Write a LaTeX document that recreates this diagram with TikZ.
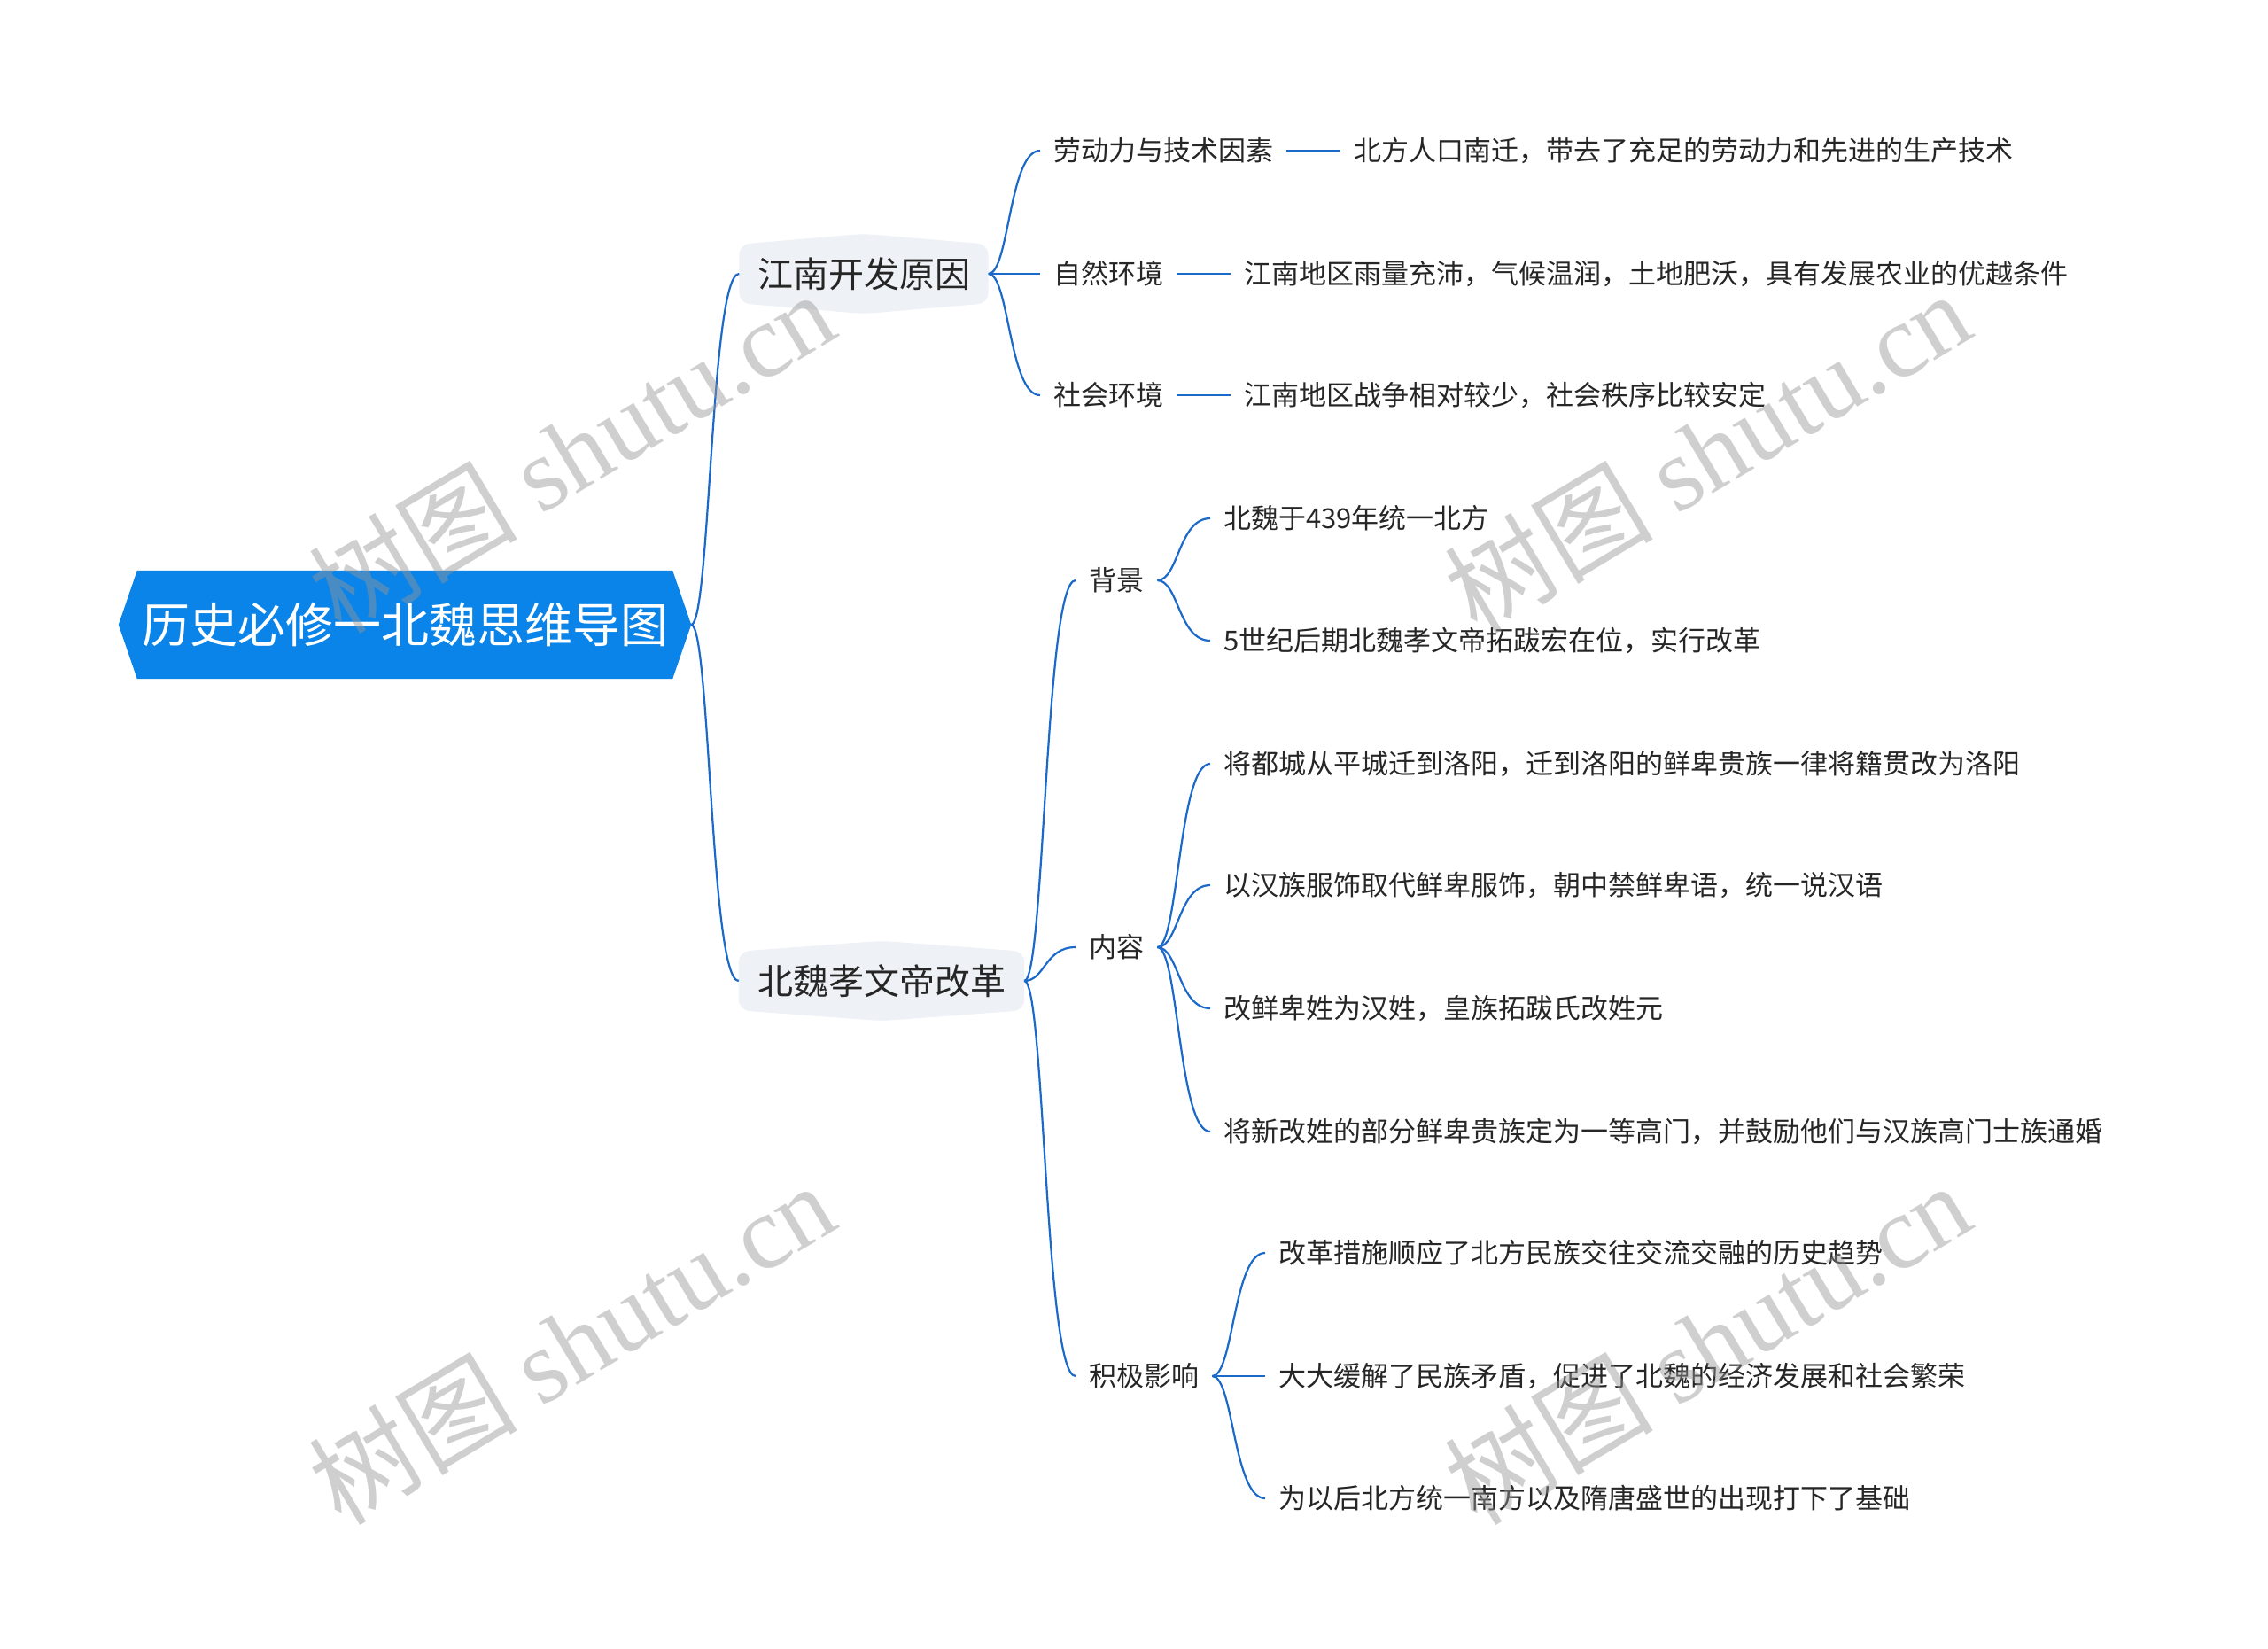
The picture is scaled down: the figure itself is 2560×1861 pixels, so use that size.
\documentclass[tikz,border=0pt]{standalone}
\usepackage{fontspec}
\setmainfont{Noto Sans CJK SC}
\newfontfamily\wmserif{Liberation Serif}
\usetikzlibrary{calc}
\pgfdeclarelayer{background}
\pgfdeclarelayer{canvas}
\pgfsetlayers{canvas,background,main}
\definecolor{rootblue}{RGB}{10,132,232}
\definecolor{conncol}{RGB}{27,106,201}
\definecolor{lonefill}{RGB}{238,241,245}
\definecolor{txtcol}{RGB}{38,38,38}
\definecolor{wmgray}{RGB}{150,150,150}
\newcommand{\brc}[2]{\draw[conn] (#1) .. controls ($(#1)!0.4!(#2 |- #1)$) and ($(#2)!0.6!(#1 |- #2)$) .. (#2);}
\begin{document}
\begin{tikzpicture}[x=1pt,y=-1pt,
  conn/.style={draw=conncol,line width=2.2pt},
  leaf/.style={anchor=west,inner xsep=15pt,inner ysep=4pt,text=txtcol,font=\fontsize{31}{36}\selectfont},
  lone/.style={inner sep=0pt,minimum height=66pt,text=txtcol,font=\fontsize{40}{46}\selectfont},
  wm/.style={rotate=31,text=wmgray,opacity=0.45,font=\fontsize{118}{124}\selectfont}]
\useasboundingbox (0,0) rectangle (2560,1861);
\begin{pgfonlayer}{canvas}
\fill[white] (0,0) rectangle (2560,1861);
\end{pgfonlayer}

% root
\node[inner sep=0pt,minimum width=604pt,minimum height=122pt,text=white,font=\fontsize{54}{60}\selectfont] (root) at (457,705) {历史必修一北魏思维导图};
\coordinate (rt) at ([xshift=21pt]root.east);
\begin{pgfonlayer}{background}
\fill[rootblue] ([xshift=-21pt]root.west) -- (root.north west) -- (root.north east) -- (rt) -- (root.south east) -- (root.south west) -- cycle;
\end{pgfonlayer}

% level 1
\node[lone,minimum width=281pt] (j) at (975,309) {江南开发原因};
\node[lone,minimum width=322pt] (b) at (995,1107) {北魏孝文帝改革};
\begin{pgfonlayer}{background}
\foreach \n in {j,b}{
\fill[lonefill,rounded corners=12pt] (\n.north west) -- ([yshift=12pt]\n.north) -- (\n.north east) -- (\n.south east) -- ([yshift=-12pt]\n.south) -- (\n.south west) -- cycle;
}
\end{pgfonlayer}

% level 2 under j
\node[leaf] (ld) at (1174,170) {劳动力与技术因素};
\node[leaf] (ld1) at (1513,170) {北方人口南迁，带去了充足的劳动力和先进的生产技术};
\node[leaf] (zr) at (1174,309) {自然环境};
\node[leaf] (zr1) at (1389,309) {江南地区雨量充沛，气候温润，土地肥沃，具有发展农业的优越条件};
\node[leaf] (sh) at (1174,446) {社会环境};
\node[leaf] (sh1) at (1389,446) {江南地区战争相对较少，社会秩序比较安定};

% level 2 under b
\node[leaf] (bj) at (1214,655) {背景};
\node[leaf] (bj1) at (1366,585) {北魏于439年统一北方};
\node[leaf] (bj2) at (1366,723) {5世纪后期北魏孝文帝拓跋宏在位，实行改革};
\node[leaf] (nr) at (1214,1069) {内容};
\node[leaf] (nr1) at (1366,862) {将都城从平城迁到洛阳，迁到洛阳的鲜卑贵族一律将籍贯改为洛阳};
\node[leaf] (nr2) at (1366,999) {以汉族服饰取代鲜卑服饰，朝中禁鲜卑语，统一说汉语};
\node[leaf] (nr3) at (1366,1138) {改鲜卑姓为汉姓，皇族拓跋氏改姓元};
\node[leaf] (nr4) at (1366,1277) {将新改姓的部分鲜卑贵族定为一等高门，并鼓励他们与汉族高门士族通婚};
\node[leaf] (jj) at (1214,1553) {积极影响};
\node[leaf] (jj1) at (1428,1414) {改革措施顺应了北方民族交往交流交融的历史趋势};
\node[leaf] (jj2) at (1428,1553) {大大缓解了民族矛盾，促进了北魏的经济发展和社会繁荣};
\node[leaf] (jj3) at (1428,1691) {为以后北方统一南方以及隋唐盛世的出现打下了基础};

% connectors
\brc{rt}{j.west}
\brc{rt}{b.west}
\brc{j.east}{ld.west}
\draw[conn] (j.east) -- (zr.west);
\brc{j.east}{sh.west}
\draw[conn] (ld.east) -- (ld1.west);
\draw[conn] (zr.east) -- (zr1.west);
\draw[conn] (sh.east) -- (sh1.west);
\brc{b.east}{bj.west}
\brc{b.east}{nr.west}
\brc{b.east}{jj.west}
\brc{bj.east}{bj1.west}
\brc{bj.east}{bj2.west}
\brc{nr.east}{nr1.west}
\brc{nr.east}{nr2.west}
\brc{nr.east}{nr3.west}
\brc{nr.east}{nr4.west}
\brc{jj.east}{jj1.west}
\draw[conn] (jj.east) -- (jj2.west);
\brc{jj.east}{jj3.west}

% watermarks
\node[wm] (w1) at (645,509) {树图 {\wmserif shutu.cn}};
\node[wm] (w2) at (1927,509) {树图 {\wmserif shutu.cn}};
\node[wm] (w3) at (645,1515) {树图 {\wmserif shutu.cn}};
\node[wm] (w4) at (1927,1515) {树图 {\wmserif shutu.cn}};
\end{tikzpicture}
\end{document}
